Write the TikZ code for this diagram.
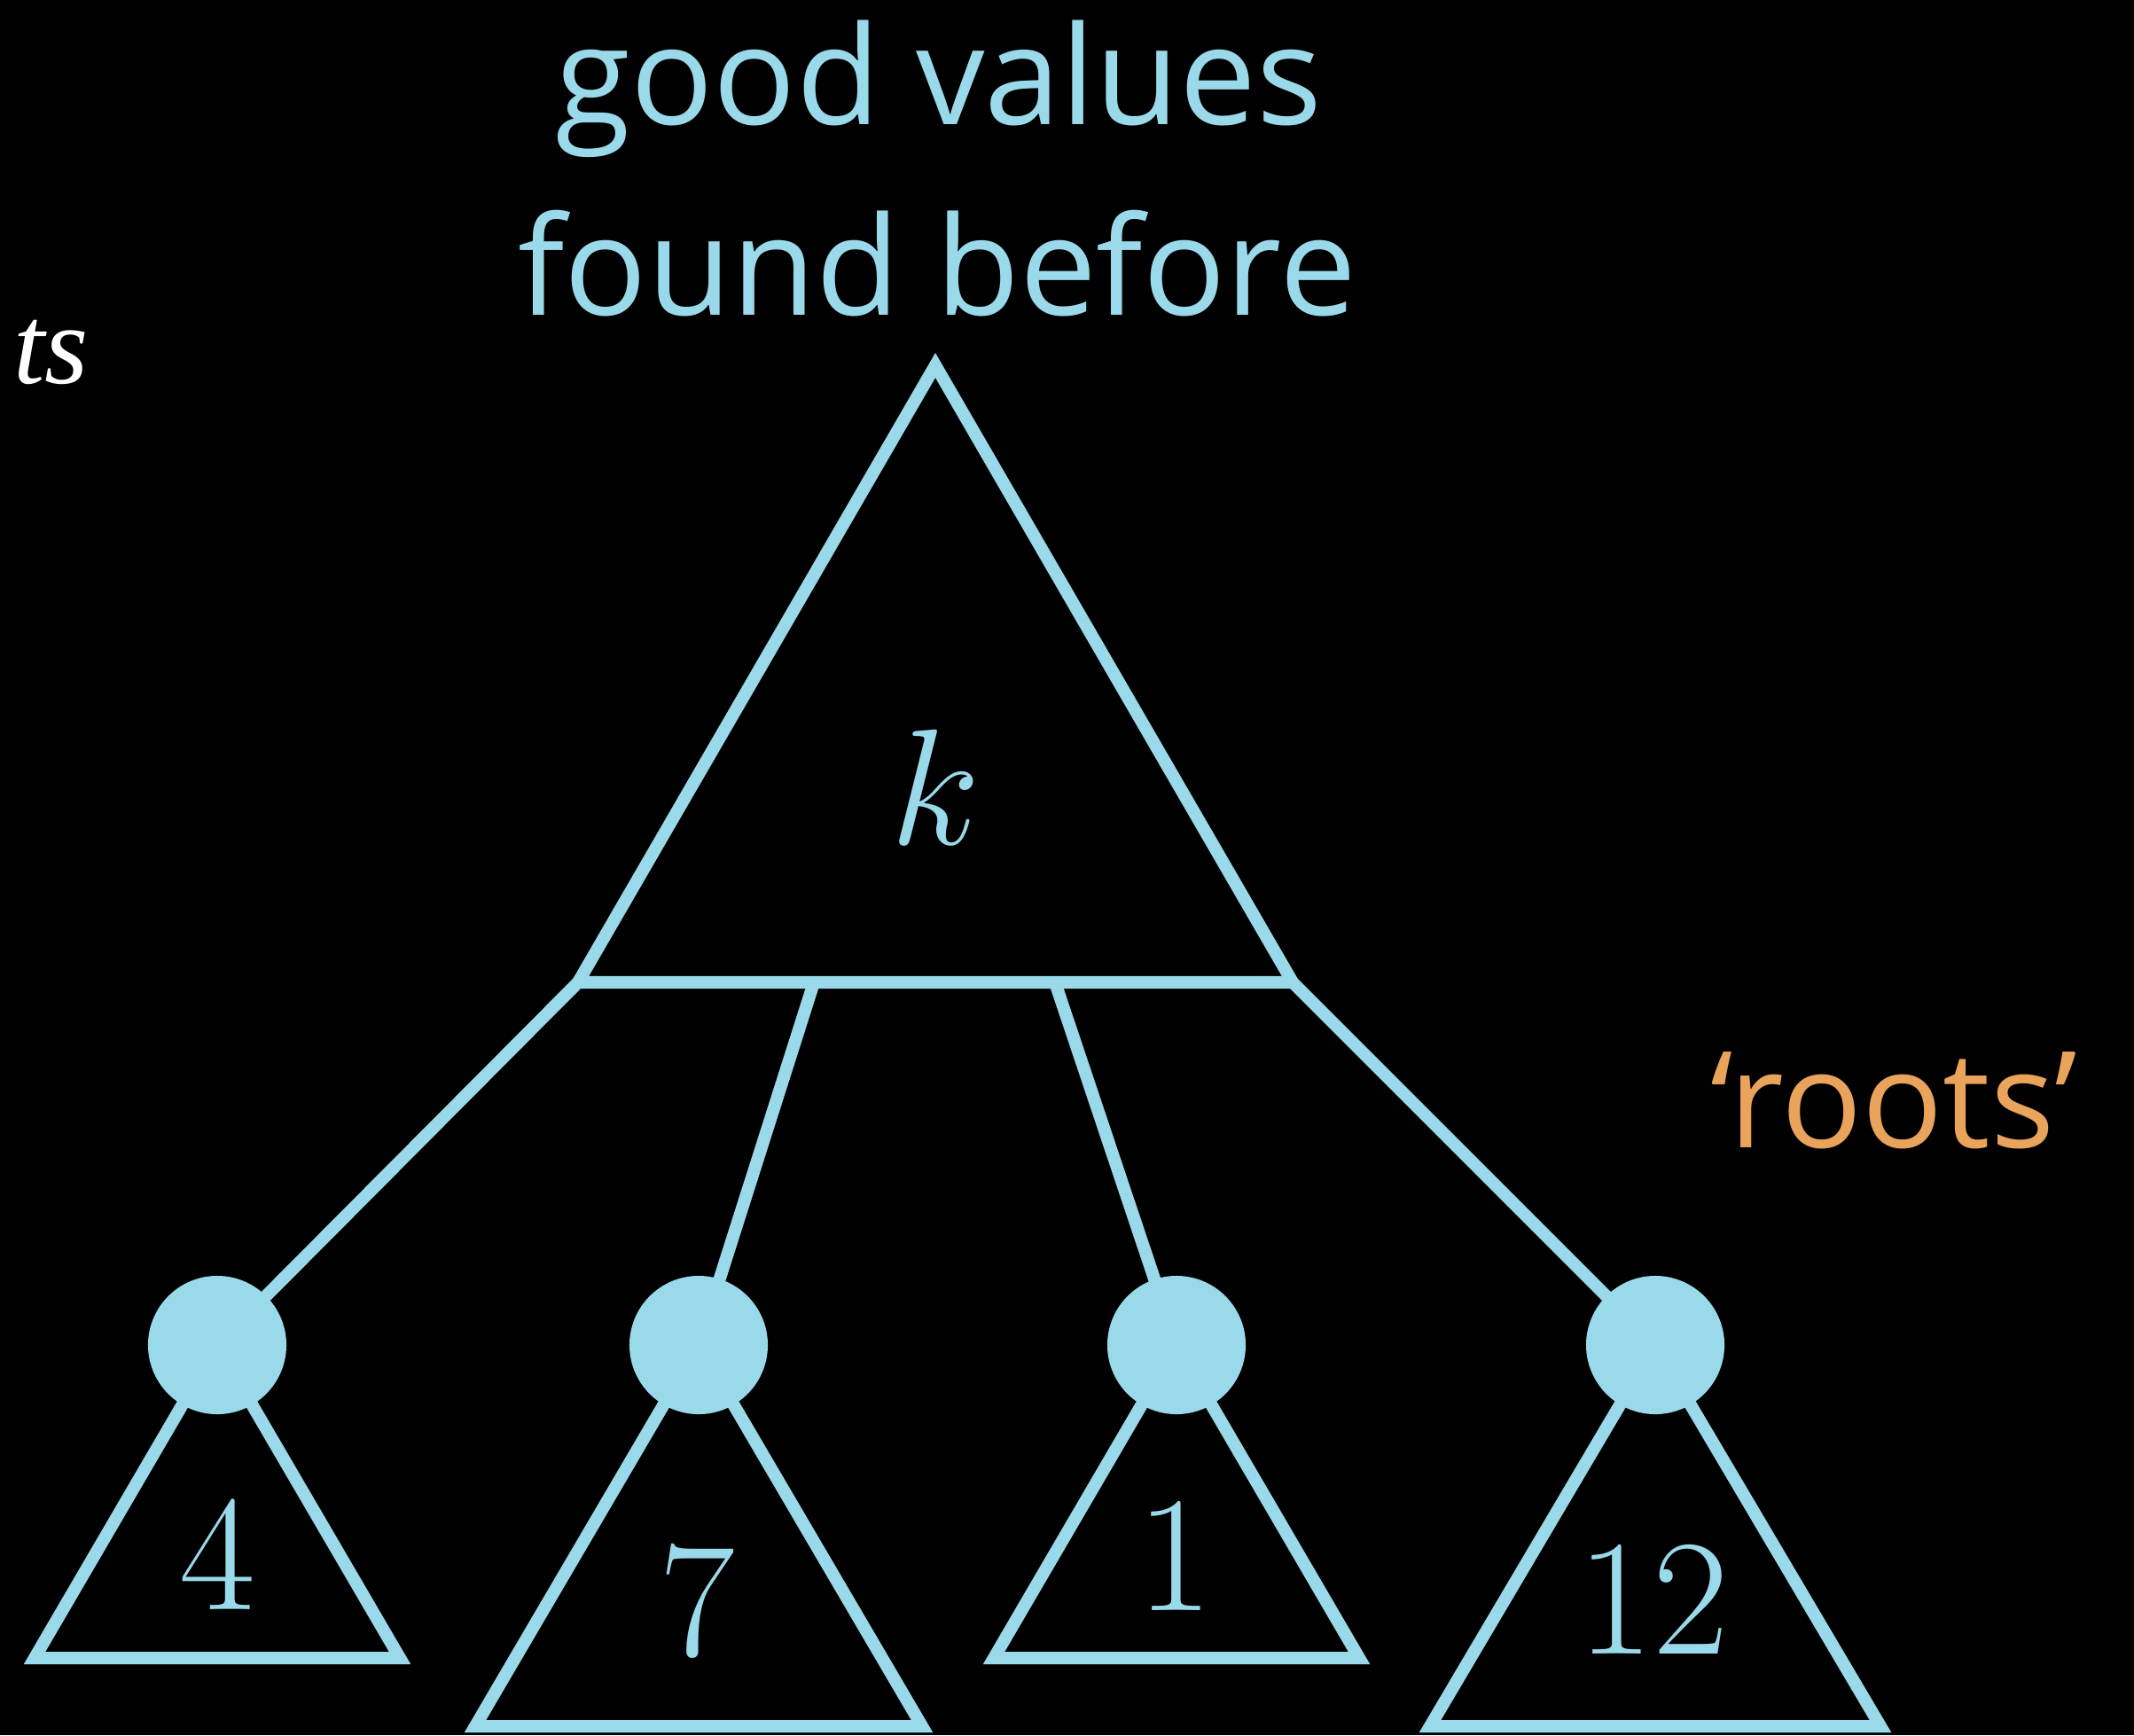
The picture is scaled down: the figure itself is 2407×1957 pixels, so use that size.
\RequirePackage{fix-cm}
\documentclass[tikz,border=0pt]{standalone}
\usepackage{fontspec}
\setmainfont{Open Sans}
\newfontfamily\tsfont{Liberation Serif}
\definecolor{lb}{RGB}{153,217,234}
\definecolor{orng}{RGB}{233,163,90}
\begin{document}
\begin{tikzpicture}[x=0.01cm,y=-0.01cm, line width=4pt, line join=miter,
  tri/.style={draw=lb, fill=black},
  dot/.style={circle, fill=lb, minimum size=1.56cm, inner sep=0pt},
  conn/.style={draw=lb},
  num/.style={text=lb, anchor=base, inner sep=0pt, font=\fontsize{53}{60}\selectfont},
  lbl/.style={text=lb, anchor=base, inner sep=0pt, font=\fontsize{44}{50}\selectfont}]
\fill[black] (0,0) rectangle (2407,1957);
\useasboundingbox (0,0) rectangle (2407,1957);
% title
\node[lbl] (t1) at (1059,140) {good values};
\node[lbl] (t2) at (1057,355) {found before};
\node[text=white, anchor=base west, inner sep=0pt, font=\fontsize{36}{40}\selectfont\tsfont\itshape] (ts) at (8,432) {ts};
\node[text=orng, anchor=base, inner sep=0pt, font=\fontsize{43}{50}\selectfont] (roots) at (2136,1294) {‘roots’};
% big triangle
\coordinate (tA) at (1055,412);
\coordinate (tL) at (652,1108);
\coordinate (tR) at (1458,1108);
\coordinate (b2) at (918,1108);
\coordinate (b3) at (1190,1108);
\draw[tri] (tA) -- (tL) -- (tR) -- cycle;
\node[num] (k) at (1055,952) {$k$};
% circle positions
\coordinate (p4) at (245,1517);
\coordinate (p7) at (788,1517);
\coordinate (p1) at (1327,1517);
\coordinate (p12) at (1867,1517);
% connectors
\draw[conn] (tL) -- (p4);
\draw[conn] (b2) -- (p7);
\draw[conn] (b3) -- (p1);
\draw[conn] (tR) -- (p12);
% small triangles
\draw[tri] (p4) -- (39,1870) -- (451,1870) -- cycle;
\draw[tri] (p7) -- (536,1947) -- (1040,1947) -- cycle;
\draw[tri] (p1) -- (1121,1870) -- (1533,1870) -- cycle;
\draw[tri] (p12) -- (1613,1947) -- (2121,1947) -- cycle;
% circles
\node[dot] (c4) at (p4) {};
\node[dot] (c7) at (p7) {};
\node[dot] (c1) at (p1) {};
\node[dot] (c12) at (p12) {};
% numbers
\node[num] (n4) at (245,1815) {$4$};
\node[num] (n7) at (786,1867) {$7$};
\node[num] (n1) at (1325,1816) {$1$};
\node[num] (n12) at (1865,1865) {$12$};
\end{tikzpicture}
\end{document}
